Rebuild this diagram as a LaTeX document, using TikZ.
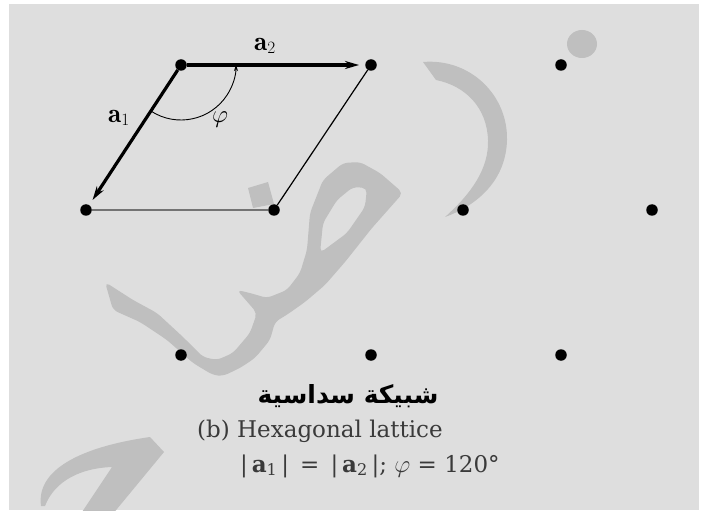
\documentclass[tikz,border=0pt]{standalone}
\usepackage{fontspec}
\usetikzlibrary{arrows.meta}
\newfontfamily\arabicfont[Script=Arabic]{DejaVu Sans}
\newfontfamily\capfont{DejaVu Serif}
\TeXXeTstate=1
\definecolor{bg}{HTML}{DEDEDE}
\definecolor{wm}{HTML}{BFBFBF}
\definecolor{captxt}{HTML}{3A3A3A}
\tikzset{
  dot/.style={circle,fill=black,inner sep=0pt,minimum size=11.5pt},
  vec/.style={line width=3.2pt,-{Stealth[length=14pt,width=8pt]},shorten >=6pt},
  thinedge/.style={line width=1.2pt},
  baseedge/.style={line width=2pt,draw=black!55},
  anglearc/.style={line width=0.9pt,-{Stealth[length=6pt,width=4pt]}},
  lbl/.style={font=\fontsize{27}{31}\selectfont,inner sep=0pt},
  captext/.style={font=\capfont\fontsize{23}{27}\selectfont,text=captxt,inner sep=0pt},
  wmark/.style={fill=wm,draw=none},
}
\begin{document}
\begin{tikzpicture}[x=1pt,y=-1pt]
\useasboundingbox (0,0) rectangle (704,513);
\fill[white] (0,0) rectangle (704,513);
\fill[bg] (9,4) rectangle (699,510);
\begin{scope}
\clip (9,4) rectangle (699,510);
% watermark
\fill[wmark] (582,44) ellipse[x radius=15,y radius=14];
\fill[wmark] (423,62) .. controls (470,58) and (508,95) .. (507,140)
  .. controls (506,180) and (478,205) .. (445,217)
  .. controls (472,193) and (489,168) .. (488,140)
  .. controls (487,108) and (466,86) .. (436,80) -- cycle;
\fill[wmark,even odd rule,rounded corners=5pt] (105,282) -- (133,300) -- (157,313) -- (183,337) -- (203,357) -- (217,360) -- (233,353) -- (250,333) -- (257,313)
  -- (237,290) -- (250,293) -- (267,298) -- (287,290) -- (300,273) -- (307,250) -- (310,213) -- (323,180) -- (343,163) -- (360,162)
  -- (380,173) -- (403,193) -- (372,228) -- (345,262) -- (325,285) -- (305,302) -- (288,314) -- (275,322) -- (270,340) -- (255,358)
  -- (240,368) -- (223,376) -- (213,375) -- (193,363) -- (167,340) -- (140,322) -- (113,310) -- cycle
  (320,253) -- (323,223) -- (337,200) -- (353,187) -- (367,188) -- (365,207) -- (347,233) -- cycle;
\fill[wmark] (248,188) -- (268,182) -- (274,204) -- (253,208) -- cycle;
\fill[wmark] (41,506) .. controls (36,470) and (80,447) .. (150,437) -- (164,452) -- (112,515) -- (80,515)
  -- (112,467) .. controls (82,468) and (55,480) .. (45,506) -- cycle;
\end{scope}
% lattice points
\node[dot] (p11) at (181,65) {};
\node[dot] (p12) at (371,65) {};
\node[dot] (p13) at (561,65) {};
\node[dot] (p21) at (86,210) {};
\node[dot] (p22) at (274,210) {};
\node[dot] (p23) at (463,210) {};
\node[dot] (p24) at (652,210) {};
\node[dot] (p31) at (181,355) {};
\node[dot] (p32) at (371,355) {};
\node[dot] (p33) at (561,355) {};
% cell
\draw[baseedge] (p21) -- (p22);
\draw[thinedge] (p12) -- (p22);
\draw[vec] (p11) -- (p12);
\draw[vec] (p11) -- (p21);
\draw[anglearc] (p11) ++(123:55) arc[start angle=123,end angle=0,radius=55];
% labels
\node[lbl] (la2) at (265,46) {$\mathbf{a}_2$};
\node[lbl] (la1) at (119,118) {$\mathbf{a}_1$};
\node[lbl] (lphi) at (220,120) {$\varphi$};
% caption
\node[font=\arabicfont\bfseries\fontsize{25}{29}\selectfont,inner sep=0pt] (ar) at (348,396) {\beginR شبيكة سداسية\endR};
\node[captext,anchor=west] (cap) at (197,431) {(b) Hexagonal lattice};
\node[captext,anchor=west] (form) at (240,466) {|\,\textbf{a}\textsubscript{1}\,| \,=\, |\,\textbf{a}\textsubscript{2}\,|; $\varphi$ = 120°};
\end{tikzpicture}
\end{document}
